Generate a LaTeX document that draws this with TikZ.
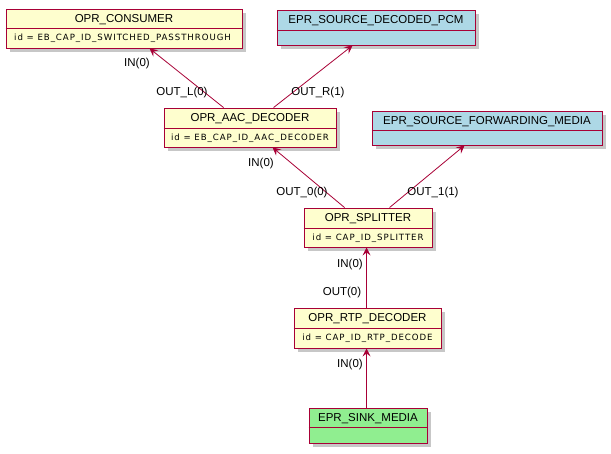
\documentclass[tikz,border=0pt]{standalone}
\usepackage{fontspec}
\setmainfont{Liberation Sans}
\newfontfamily\bodyfont[LetterSpace=11]{DejaVu Sans}
\usetikzlibrary{arrows.meta,shadows}
\definecolor{pumlred}{HTML}{A80036}
\definecolor{pumlyellow}{HTML}{FEFECE}
\definecolor{pumlblue}{HTML}{ADD8E6}
\definecolor{pumlgreen}{HTML}{90EE90}
\tikzset{
  objbox/.style={draw=pumlred, line width=0.9pt, inner sep=0pt,
    drop shadow={shadow xshift=3.5pt, shadow yshift=-3.5pt, fill=black, opacity=0.22}},
  sepline/.style={draw=pumlred, line width=0.9pt},
  titletxt/.style={font=\fontsize{11.5}{13}\selectfont, inner sep=0pt},
  bodytxt/.style={font=\bodyfont\fontsize{8.6}{10}\selectfont, inner sep=0pt},
  lbl/.style={font=\fontsize{11.5}{13}\selectfont, inner sep=0pt},
  conn/.style={draw=pumlred, line width=0.8pt, -{Stealth[length=8pt,width=8pt,inset=3pt]}},
}
\begin{document}
\begin{tikzpicture}[x=1pt,y=-1pt]
\useasboundingbox[fill=white] (0,0) rectangle (611,453);

% boxes
\node[objbox, fill=pumlyellow, minimum width=236pt, minimum height=39pt] (cons) at (124,28.5) {};
\draw[sepline] (cons.west |- 0,28) -- (cons.east |- 0,28);
\node[titletxt] (cons-t) at (124,19.5) {OPR\_CONSUMER};
\node[bodytxt] (cons-b) at (122.5,38.5) {id = EB\_CAP\_ID\_SWITCHED\_PASSTHROUGH};

\node[objbox, fill=pumlblue, minimum width=198pt, minimum height=35pt] (pcm) at (376,27.5) {};
\draw[sepline] (pcm.west |- 0,30) -- (pcm.east |- 0,30);
\node[titletxt] (pcm-t) at (376,21) {EPR\_SOURCE\_DECODED\_PCM};

\node[objbox, fill=pumlyellow, minimum width=172pt, minimum height=39pt] (aac) at (250,127.5) {};
\draw[sepline] (aac.west |- 0,128) -- (aac.east |- 0,128);
\node[titletxt] (aac-t) at (250,119) {OPR\_AAC\_DECODER};
\node[bodytxt] (aac-b) at (250,138) {id = EB\_CAP\_ID\_AAC\_DECODER};

\node[objbox, fill=pumlblue, minimum width=230pt, minimum height=34pt] (fwd) at (487,128) {};
\draw[sepline] (fwd.west |- 0,130) -- (fwd.east |- 0,130);
\node[titletxt] (fwd-t) at (487,121.5) {EPR\_SOURCE\_FORWARDING\_MEDIA};

\node[objbox, fill=pumlyellow, minimum width=128pt, minimum height=39pt] (spl) at (368,227.5) {};
\draw[sepline] (spl.west |- 0,228) -- (spl.east |- 0,228);
\node[titletxt] (spl-t) at (368,219) {OPR\_SPLITTER};
\node[bodytxt] (spl-b) at (368,238) {id = CAP\_ID\_SPLITTER};

\node[objbox, fill=pumlyellow, minimum width=147pt, minimum height=40pt] (rtp) at (367.5,328) {};
\draw[sepline] (rtp.west |- 0,328) -- (rtp.east |- 0,328);
\node[titletxt] (rtp-t) at (367.5,319) {OPR\_RTP\_DECODER};
\node[bodytxt] (rtp-b) at (367.5,338.5) {id = CAP\_ID\_RTP\_DECODE};

\node[objbox, fill=pumlgreen, minimum width=118pt, minimum height=35pt] (sink) at (368,425.5) {};
\draw[sepline] (sink.west |- 0,427) -- (sink.east |- 0,427);
\node[titletxt] (sink-t) at (368,418.5) {EPR\_SINK\_MEDIA};

% connectors
\draw[conn] ([xshift=60pt]aac.north west) -- ([xshift=144pt]cons.south west);
\draw[conn] ([xshift=110pt]aac.north west) -- ([xshift=76pt]pcm.south west);
\draw[conn] ([xshift=41pt]spl.north west) -- ([xshift=109pt]aac.south west);
\draw[conn] ([xshift=86pt]spl.north west) -- ([xshift=93pt]fwd.south west);
\draw[conn] ([xshift=73pt]rtp.north west) -- ([xshift=63pt]spl.south west);
\draw[conn] ([xshift=58pt]sink.north west) -- ([xshift=73pt]rtp.south west);

% labels
\node[lbl] (l1) at (137,63.5) {IN(0)};
\node[lbl] (l2) at (182,92.5) {OUT\_L(0)};
\node[lbl] (l3) at (318,92.5) {OUT\_R(1)};
\node[lbl] (l4) at (261,163.5) {IN(0)};
\node[lbl] (l5) at (302,192.5) {OUT\_0(0)};
\node[lbl] (l6) at (433,192.5) {OUT\_1(1)};
\node[lbl] (l7) at (350,265) {IN(0)};
\node[lbl] (l8) at (342,292.5) {OUT(0)};
\node[lbl] (l9) at (350,365) {IN(0)};
\end{tikzpicture}
\end{document}
